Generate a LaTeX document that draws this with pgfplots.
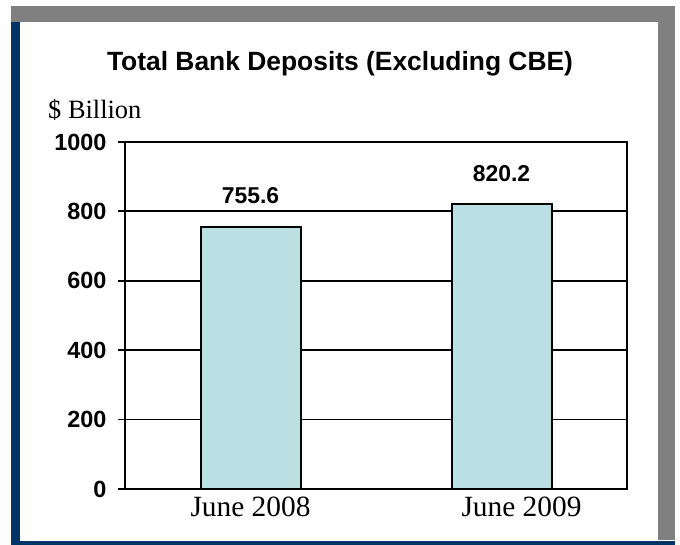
\documentclass[border=0pt]{standalone}
\usepackage{pgfplots}
\pgfplotsset{compat=1.18}
\usepackage{fontspec}
\setmainfont{Liberation Serif}
\newfontfamily\arial{Liberation Sans}
\definecolor{framegray}{HTML}{808080}
\definecolor{frameblue}{HTML}{003366}
\definecolor{barblue}{HTML}{BBE0E3}
\begin{document}
\begin{tikzpicture}[x=1bp,y=1bp]
\fill[white] (0,0) rectangle (680,545);
\useasboundingbox (0,0) rectangle (680,545);
\fill[framegray] (11,523) rectangle (675,539);
\fill[framegray] (658,5) rectangle (675,539);
\fill[frameblue] (11,0) rectangle (20,523);
\fill[frameblue] (11,0) rectangle (675,3.5);
\node[anchor=base, font=\arial\bfseries\fontsize{26.5}{26.5}\selectfont] at (340,474.3) {Total Bank Deposits (Excluding CBE)};
\node[anchor=base west, inner sep=0, font=\fontsize{26.5}{26.5}\selectfont] at (48,426.7) {\$ Billion};
\begin{axis}[
  at={(125bp,56bp)}, anchor=south west,
  scale only axis, width=502bp, height=347bp,
  xmin=-0.5, xmax=1.5, ymin=0, ymax=1000,
  ybar,
  xtick={0,1}, xticklabels={June 2008,\hspace*{40bp}June 2009},
  ytick={0,200,...,1000},
  ymajorgrids, grid style={black, line width=1.8bp},
  axis line style={line width=2bp},
  tick style={black, line width=1.8bp},
  tick align=outside, major tick length=7bp,
  ytick pos=left, xtick pos=bottom,
  xtick style={draw=none},
  /pgf/number format/assume math mode=true,
  /pgf/number format/1000 sep={},
  yticklabel style={font=\arial\bfseries\fontsize{23.5}{23.5}\selectfont, xshift=-8bp},
  xticklabel style={font=\fontsize{29.5}{29.5}\selectfont, yshift=3bp},
  nodes near coords,
  nodes near coords style={font=\arial\bfseries\fontsize{23}{23}\selectfont, inner sep=0pt, yshift=22bp,
    /pgf/number format/fixed, /pgf/number format/precision=1, /pgf/number format/fixed zerofill},
]
\addplot[bar width=100bp, fill=barblue, draw=black, line width=2bp] coordinates {(0,755.6) (1,820.2)};
\end{axis}
\end{tikzpicture}
\end{document}
